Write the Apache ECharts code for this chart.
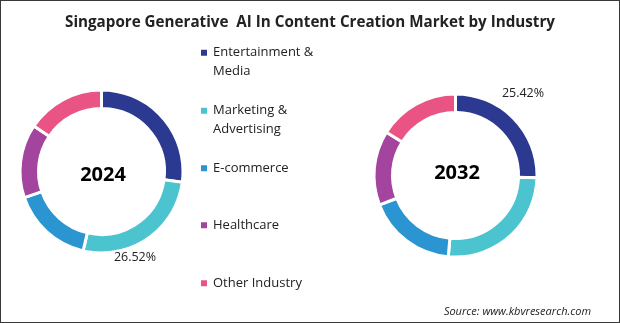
<!DOCTYPE html>
<html>
<head>
<meta charset="utf-8">
<script src="https://cdn.jsdelivr.net/npm/echarts@6/dist/echarts.min.js"></script>
<style>
html,body{margin:0;padding:0;background:#fff;}
#c{width:620px;height:323px;box-sizing:border-box;border:1px solid #3a3a3a;}
</style>
</head>
<body>
<div id="c"></div>
<script>
var categories = ['Entertainment & Media', 'Marketing & Advertising', 'E-commerce', 'Healthcare', 'Other Industry'];
var legendLabels = ['Entertainment &\nMedia', 'Marketing &\nAdvertising', 'E-commerce', 'Healthcare', 'Other Industry'];
var values2024 = [27.1, 26.52, 16.2, 14.6, 15.58];
var values2032 = [25.42, 26.0, 17.7, 14.8, 16.08];
var years = ['2024', '2032'];
var colors = ['#2b3990', '#4cc4cf', '#2a95d1', '#a3449e', '#ea5484'];

var chart = echarts.init(document.getElementById('c'), null, {renderer: 'canvas'});
var font = '"Open Sans", "Noto Sans", sans-serif';

function pieData(vals) {
  return categories.map(function (c, i) {
    return {name: c, value: vals[i], itemStyle: {color: colors[i]}};
  });
}

var legendTops = [19, 77, 153, 210, 268];
var legends = categories.map(function (c, i) {
  var two = legendLabels[i].indexOf('\n') >= 0;
  return {
    data: [c],
    left: 193,
    top: legendTops[i],
    orient: 'vertical',
    icon: 'rect',
    itemWidth: 8,
    itemHeight: 8,
    itemGap: 0,
    selectedMode: false,
    formatter: function () { return two ? ' \n' + legendLabels[i] : legendLabels[i]; },
    textStyle: {fontFamily: font, fontSize: 13, color: '#222', lineHeight: 18.5}
  };
});

var option = {
  animation: false,
  title: [
    {text: 'Singapore Generative  AI In Content Creation Market by Industry', left: 'center', top: 9,
     textStyle: {fontFamily: font, fontSize: 15.2, fontWeight: 'bold', color: '#222'}},
    {text: years[0], left: 97, top: 159, textAlign: 'center',
     textStyle: {fontFamily: font, fontSize: 20, fontWeight: 'bold', color: '#000'}},
    {text: years[1], left: 451, top: 157, textAlign: 'center',
     textStyle: {fontFamily: font, fontSize: 20, fontWeight: 'bold', color: '#000'}},
    {text: values2024[1].toFixed(2) + '%', left: 129, top: 245, textAlign: 'center',
     textStyle: {fontFamily: font, fontSize: 12.5, fontWeight: 'normal', color: '#222'}},
    {text: values2032[0].toFixed(2) + '%', left: 517, top: 81, textAlign: 'center',
     textStyle: {fontFamily: font, fontSize: 12.5, fontWeight: 'normal', color: '#222'}},
    {text: 'Source: www.kbvresearch.com', right: 23, top: 300,
     textStyle: {fontFamily: font, fontSize: 11, fontStyle: 'italic', fontWeight: 'normal', color: '#222'}}
  ],
  legend: legends,
  series: [
    {type: 'pie', center: [100.5, 170.5], radius: [63, 81.5], startAngle: 90, clockwise: true,
     label: {show: false}, labelLine: {show: false}, silent: true,
     itemStyle: {borderColor: '#fff', borderWidth: 3},
     data: pieData(values2024)},
    {type: 'pie', center: [454.5, 174.5], radius: [63, 81.5], startAngle: 90, clockwise: true,
     label: {show: false}, labelLine: {show: false}, silent: true,
     itemStyle: {borderColor: '#fff', borderWidth: 3},
     data: pieData(values2032)}
  ]
};
chart.setOption(option);
</script>
</body>
</html>
